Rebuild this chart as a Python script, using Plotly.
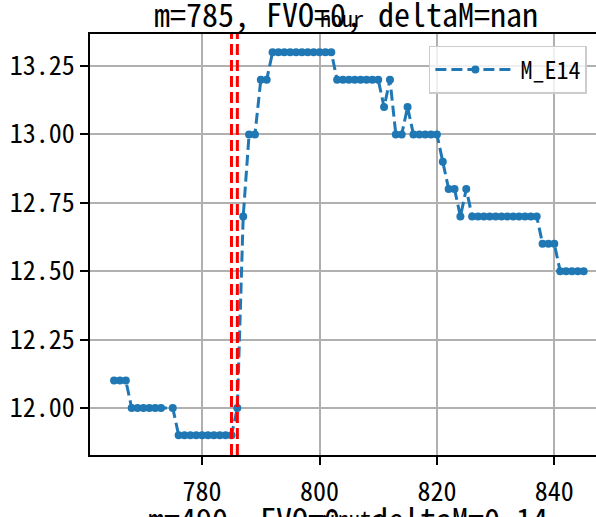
import plotly.graph_objects as go

minutes = [765, 766, 767, 768, 769, 770, 771, 772, 773, 775,
           776, 777, 778, 779, 780, 781, 782, 783, 784, 785,
           786, 787, 788, 789, 790, 791, 792, 793, 794, 795,
           796, 797, 798, 799, 800, 801, 802, 803, 804, 805,
           806, 807, 808, 809, 810, 811, 812, 813, 814, 815,
           816, 817, 818, 819, 820, 821, 822, 823, 824, 825,
           826, 827, 828, 829, 830, 831, 832, 833, 834, 835,
           836, 837, 838, 839, 840, 841, 842, 843, 844, 845]
m_e14 = [12.1, 12.1, 12.1, 12.0, 12.0, 12.0, 12.0, 12.0, 12.0, 12.0,
         11.9, 11.9, 11.9, 11.9, 11.9, 11.9, 11.9, 11.9, 11.9, 11.9,
         12.0, 12.7, 13.0, 13.0, 13.2, 13.2, 13.3, 13.3, 13.3, 13.3,
         13.3, 13.3, 13.3, 13.3, 13.3, 13.3, 13.3, 13.2, 13.2, 13.2,
         13.2, 13.2, 13.2, 13.2, 13.2, 13.1, 13.2, 13.0, 13.0, 13.1,
         13.0, 13.0, 13.0, 13.0, 13.0, 12.9, 12.8, 12.8, 12.7, 12.8,
         12.7, 12.7, 12.7, 12.7, 12.7, 12.7, 12.7, 12.7, 12.7, 12.7,
         12.7, 12.7, 12.6, 12.6, 12.6, 12.5, 12.5, 12.5, 12.5, 12.5]
event_minutes = [785, 786]
y_ticks = [12.00, 12.25, 12.50, 12.75, 13.00, 13.25]
x_ticks = [780, 800, 820, 840]

FONT = "Noto Sans Mono CJK SC, Noto Sans CJK SC, Noto Sans, sans-serif"

fig = go.Figure()
fig.add_trace(go.Scatter(
    x=minutes, y=m_e14, name="M_E14", mode="lines+markers",
    line=dict(color="#1f77b4", width=3, dash="11px,5px"),
    marker=dict(color="#1f77b4", size=8),
))

for m in event_minutes:
    fig.add_shape(type="line", xref="x", yref="paper", x0=m, x1=m, y0=0, y1=1,
                  line=dict(color="red", width=3, dash="11px,5px"))

# titles bleeding in from neighbouring subplots
fig.add_annotation(text="m=785, FVO=0, deltaM=nan", xref="paper", yref="paper",
                   x=0.506, y=1.05, yanchor="middle", showarrow=False,
                   font=dict(size=32, color="black"))
fig.add_annotation(text="hour", xref="paper", yref="paper",
                   x=0.498, y=1.04, yanchor="middle", showarrow=False,
                   font=dict(size=22, color="black"))
fig.add_annotation(text="m=490, FVO=0, deltaM=0.14", xref="paper", yref="paper",
                   x=0.509, y=-0.09, yanchor="top", showarrow=False,
                   font=dict(size=32, color="black"))
fig.add_annotation(text="minute", xref="paper", yref="paper",
                   x=0.512, y=-0.105, yanchor="top", showarrow=False,
                   font=dict(size=22, color="black"))

axis_common = dict(showgrid=True, gridcolor="#b0b0b0", gridwidth=1.5,
                   showline=True, linecolor="black", linewidth=2,
                   ticks="outside", ticklen=8, tickwidth=2, tickcolor="black",
                   zeroline=False, automargin=False,
                   tickfont=dict(size=26, color="black"))

fig.update_layout(
    width=596, height=517,
    margin=dict(l=90, r=0, t=34, b=62),
    paper_bgcolor="white", plot_bgcolor="white",
    font=dict(family=FONT, color="black"),
    showlegend=True,
    legend=dict(x=0.982, y=0.972, xanchor="right", yanchor="top",
                bgcolor="rgba(255,255,255,0.8)", bordercolor="#cccccc", borderwidth=1.5,
                font=dict(size=24), itemwidth=80),
    xaxis=dict(range=[760.9, 847.1], tickvals=x_ticks, mirror=True,
               ticklabelstandoff=5, **axis_common),
    yaxis=dict(range=[11.828, 13.367], tickvals=y_ticks, tickformat=".2f", **axis_common),
)

fig.write_html("out.html", config={"displayModeBar": False},
               post_script="document.body.style.margin='0';")
